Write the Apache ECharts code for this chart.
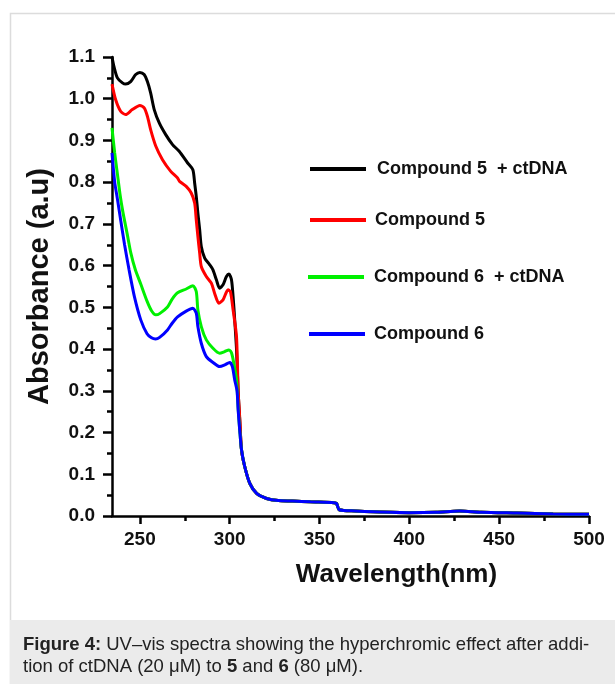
<!DOCTYPE html>
<html>
<head>
<meta charset="utf-8">
<script src="https://cdn.jsdelivr.net/npm/echarts@6/dist/echarts.min.js"></script>
<style>
html,body{margin:0;padding:0;background:#fff;}
#chart{width:615px;height:684px;}
</style>
</head>
<body>
<div id="chart"></div>
<script>
// ---- data ----
const seriesNames = ['Compound 5  + ctDNA', 'Compound 5', 'Compound 6  + ctDNA', 'Compound 6'];
const seriesColors = ['#000000', '#ff0000', '#00f000', '#0000ff'];

const tailWl  = [306.6, 308.4, 311.2, 315, 320.5, 327, 335, 345, 358, 359.5, 361, 370, 380, 400, 415, 428, 440, 460, 480, 500];
const tailAbs = [0.158, 0.118, 0.078, 0.054, 0.042, 0.037, 0.036, 0.034, 0.032, 0.030, 0.015, 0.012, 0.010, 0.008, 0.009, 0.012, 0.009, 0.007, 0.005, 0.004];

const wlC5DNA  = [234.5, 235.6, 237.5, 240.3, 242.1, 244.9, 247.7, 250, 252.4, 254.2, 256, 258, 260.8, 264.4, 268.2, 271.9, 276.6, 279.5, 280.5, 281.4, 282.3, 283.3, 284.2, 286.1, 288.9, 290.7, 292.6, 294.4, 296.3, 298.2, 299.6, 301, 301.9, 302.8, 303.8, 304.7, 305.6];
const absC5DNA = [1.100, 1.077, 1.050, 1.038, 1.035, 1.041, 1.058, 1.063, 1.058, 1.041, 1.014, 0.974, 0.942, 0.914, 0.890, 0.874, 0.846, 0.830, 0.798, 0.766, 0.726, 0.686, 0.646, 0.618, 0.602, 0.590, 0.566, 0.546, 0.554, 0.574, 0.580, 0.566, 0.526, 0.470, 0.400, 0.300, 0.230];

const wlC5  = [234.5, 236.5, 239.3, 242.1, 245.8, 250, 252.4, 254.2, 256, 258.9, 262.6, 267.2, 271, 272.1, 275.8, 278.6, 280.5, 281.4, 282.3, 283.3, 284.2, 287, 289.8, 291.6, 294, 296.3, 299.1, 300.4, 301.9, 303.8, 304.7, 305.6];
const absC5 = [1.035, 0.998, 0.970, 0.962, 0.974, 0.984, 0.978, 0.958, 0.926, 0.886, 0.854, 0.826, 0.810, 0.802, 0.790, 0.774, 0.750, 0.710, 0.670, 0.630, 0.598, 0.574, 0.558, 0.534, 0.510, 0.518, 0.542, 0.538, 0.494, 0.430, 0.300, 0.235];

const wlC6DNA  = [234.5, 236, 237.5, 239, 240.5, 243, 245, 247.5, 250.5, 254, 256.5, 258.9, 261, 265.4, 268, 271, 275.8, 279.5, 281.4, 282.3, 284.2, 287, 290.7, 294.4, 297.2, 299.6, 301, 302.3, 303.8, 304.7, 305.6];
const absC6DNA = [0.930, 0.870, 0.820, 0.770, 0.730, 0.675, 0.630, 0.590, 0.556, 0.515, 0.492, 0.482, 0.485, 0.501, 0.520, 0.535, 0.544, 0.552, 0.538, 0.494, 0.454, 0.422, 0.402, 0.390, 0.394, 0.398, 0.391, 0.366, 0.326, 0.260, 0.205];

const wlC6  = [234.5, 236, 237.5, 239.3, 241.5, 244, 247, 250.5, 254, 256.5, 258.7, 261, 265.4, 268, 271, 275.8, 279.5, 281.4, 282.3, 284.2, 287, 290.7, 294.4, 297.2, 300, 301.5, 302.8, 304.1, 304.7, 305.6];
const absC6 = [0.870, 0.800, 0.760, 0.710, 0.650, 0.590, 0.525, 0.470, 0.437, 0.427, 0.424, 0.428, 0.446, 0.462, 0.477, 0.491, 0.498, 0.486, 0.454, 0.414, 0.382, 0.368, 0.358, 0.362, 0.368, 0.358, 0.326, 0.300, 0.255, 0.205];

const xTickValues = [250, 300, 350, 400, 450, 500];
const xMinorTickValues = [275, 325, 375, 425, 475];
const captionText = '{b|Figure 4:} UV–vis spectra showing the hyperchromic effect after addi-\ntion of ctDNA (20 μM) to {b|5} and {b|6} (80 μM).';

// ---- build ----
function zip(wl, ab) {
  const out = [];
  for (let i = 0; i < wl.length; i++) out.push([wl[i], ab[i]]);
  for (let i = 0; i < tailWl.length; i++) out.push([tailWl[i], tailAbs[i]]);
  return out;
}
const allWl = [wlC5DNA, wlC5, wlC6DNA, wlC6];
const allAbs = [absC5DNA, absC5, absC6DNA, absC6];

const FONT = 'Arial, "Liberation Sans", Helvetica, sans-serif';

const series = seriesNames.map((n, i) => ({
  name: n,
  type: 'line',
  xAxisIndex: 0,
  data: zip(allWl[i], allAbs[i]),
  showSymbol: false,
  smooth: 0.25,
  lineStyle: { color: seriesColors[i], width: 3 },
  itemStyle: { color: seriesColors[i] },
  emphasis: { disabled: true }
}));

const legendTops = [155, 206, 263, 320];
const legendLefts = [305, 305, 303, 304];
const legendPads = [6, 4, 5, 4];
const legends = seriesNames.map((n, i) => ({
  data: [n],
  top: legendTops[i],
  left: legendLefts[i],
  icon: 'rect',
  itemWidth: 56,
  itemHeight: 4,
  selectedMode: false,
  textStyle: { fontFamily: FONT, fontWeight: 'bold', fontSize: 18, color: '#111', padding: [0, 0, 0, legendPads[i]] }
}));

const chart = echarts.init(document.getElementById('chart'), null, { renderer: 'canvas' });
chart.setOption({
  backgroundColor: '#ffffff',
  animation: false,
  grid: { left: 112, right: 26, top: 57, bottom: 168, containLabel: false },
  legend: legends,
  xAxis: [{
    type: 'value',
    min: 234.5,
    max: 500,
    name: 'Wavelength(nm)',
    nameLocation: 'middle',
    nameGap: 46,
    nameTextStyle: { fontFamily: FONT, fontWeight: 'bold', fontSize: 26, color: '#111', padding: [0, 0, 0, 92] },
    axisLine: { lineStyle: { color: '#000', width: 2.5 } },
    axisTick: { show: true, inside: false, length: 8, lineStyle: { color: '#000', width: 2.5 }, customValues: xTickValues },
    axisLabel: { fontFamily: FONT, fontWeight: 'bold', fontSize: 19, color: '#111', margin: 14, customValues: xTickValues },
    splitLine: { show: false }
  }, {
    type: 'value',
    min: 234.5,
    max: 500,
    position: 'bottom',
    axisLine: { show: false },
    axisTick: { show: true, inside: false, length: 5, lineStyle: { color: '#000', width: 2.5 }, customValues: xMinorTickValues },
    axisLabel: { show: false },
    splitLine: { show: false }
  }],
  yAxis: {
    type: 'value',
    min: 0,
    max: 1.1,
    interval: 0.1,
    name: 'Absorbance (a.u)',
    nameLocation: 'middle',
    nameGap: 58,
    nameTextStyle: { fontFamily: FONT, fontWeight: 'bold', fontSize: 29, color: '#111' },
    axisLine: { show: true, lineStyle: { color: '#000', width: 2.5 } },
    axisTick: { show: true, inside: false, length: 9, lineStyle: { color: '#000', width: 2.5 } },
    minorTick: { show: true, splitNumber: 2, length: 5, lineStyle: { color: '#000', width: 2.5 } },
    axisLabel: { fontFamily: FONT, fontWeight: 'bold', fontSize: 19, color: '#111', margin: 17, formatter: v => v.toFixed(1) },
    splitLine: { show: false }
  },
  series: series,
  graphic: [
    { type: 'rect', silent: true, z: -10, shape: { x: 10.5, y: 13.5, width: 700, height: 700 }, style: { fill: 'none', stroke: '#dcdcdc', lineWidth: 1.5 } },
    { type: 'rect', silent: true, z: -9, shape: { x: 10, y: 620, width: 605, height: 64 }, style: { fill: '#ebebeb' } },
    { type: 'text', silent: true, left: 23, top: 634, style: {
      text: captionText,
      fontFamily: FONT, fontSize: 18.5, fill: '#222', lineHeight: 22,
      rich: { b: { fontWeight: 'bold', fontFamily: FONT, fontSize: 18.5, fill: '#222', lineHeight: 22 } }
    } }
  ]
});
</script>
</body>
</html>
